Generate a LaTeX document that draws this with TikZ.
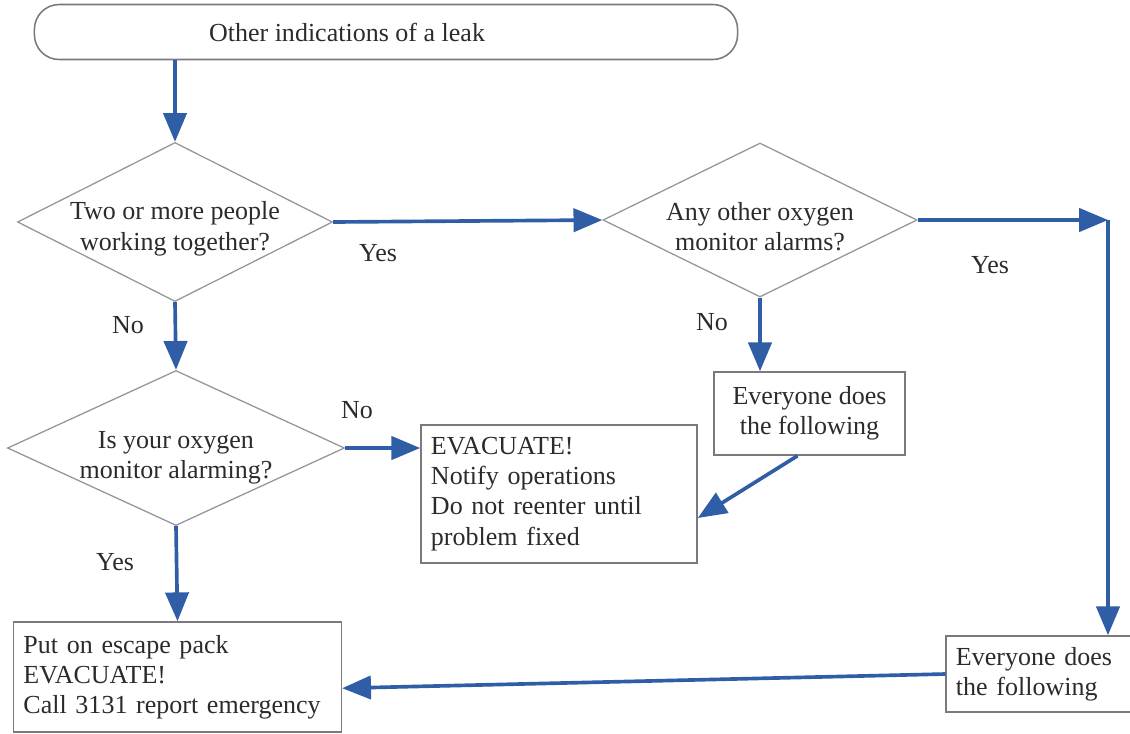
\documentclass[tikz,border=0pt]{standalone}
\usepackage{fontspec}
\setmainfont{Liberation Serif}
\usepackage{tikz}
\usetikzlibrary{arrows.meta,shapes.geometric,calc}
\definecolor{flowblue}{HTML}{2F5DA6}
\definecolor{boxline}{HTML}{7A7A7A}
\definecolor{inktext}{HTML}{2B2B2B}
\tikzset{
  terminal/.style={draw=boxline, line width=1.1pt, rounded corners=0.62cm,
    minimum width=17.575cm, minimum height=1.375cm},
  decision/.style={draw=boxline!80, line width=0.9pt, diamond, inner sep=0pt},
  decitext/.style={align=center, text=inktext, yshift=-0.17cm},
  actionbox/.style={draw=boxline, line width=1.1pt, align=left, text=inktext,
    inner xsep=7pt, anchor=center},
  answer/.style={text=inktext},
  arr/.style={-{Triangle[length=0.72cm, width=0.58cm]}, line width=2.6pt,
    draw=flowblue}
}

\begin{document}
\begin{tikzpicture}[x=0.025cm, y=-0.025cm, font=\fontsize{18.5pt}{21.5pt}\selectfont]
        \useasboundingbox (0,0) rectangle (1130,733);
        % start
        \node[terminal] (start) at (386,32) {};
        \node[text=inktext] (starttext) at (347,32) {Other indications of a leak};
        % decisions
        \node[decision, minimum width=7.875cm, minimum height=3.975cm,
          label={[decitext]center:{Two or more people\\working together?}}] (team) at (175,222) {};
        \node[decision, minimum width=7.85cm, minimum height=3.85cm,
          label={[decitext]center:{Any other oxygen\\monitor alarms?}}] (others) at (760,220) {};
        \node[decision, minimum width=8.425cm, minimum height=3.875cm,
          label={[decitext, yshift=-0.08cm]center:{Is your oxygen\\monitor alarming?}}] (own) at (176,448) {};
        % actions
        \node[actionbox, minimum width=6.9cm, minimum height=3.45cm, text width=6.4cm] (evac) at (559,494)
          {EVACUATE!\\Notify operations\\Do not reenter until\\problem fixed};
        \node[actionbox, minimum width=4.775cm, minimum height=2.075cm, align=center] (allnear) at (809.5,413.5)
          {Everyone does\\the following};
        \node[actionbox, minimum width=8.125cm, minimum height=2.75cm, text width=7.7cm] (escape) at (177.5,677)
          {Put on escape pack\\EVACUATE!\\Call 3131 report emergency};
        \node[actionbox, minimum width=5cm, minimum height=1.9cm, text width=4.6cm] (allfar) at (1048,674)
          {Everyone does\\the following};
        \coordinate (turn) at (1108,220);
        % answers
        \node[answer] (yes1) at (378,253) {Yes};
        \node[answer] (yes2) at (990,265) {Yes};
        \node[answer] (yes3) at (115,562) {Yes};
        \node[answer] (no1) at (128,325) {No};
        \node[answer] (no2) at (712,322) {No};
        \node[answer] (no3) at (357,410) {No};
        % connectors
        \draw[arr] (start.south -| team.north) -- (team.north);
        \draw[arr] (team.east) -- (others.west);
        \draw[arr] (others.east) -- (turn);
        \draw[arr] (turn) -- (turn |- allfar.north);
        \draw[arr] (others.south) -- (allnear.north -| others.south);
        \draw[arr] ([xshift=-0.3cm]allnear.south) -- ([yshift=-0.6cm]evac.east);
        \draw[arr] (team.south) -- (own.north);
        \draw[arr] (own.east) -- (own.east -| evac.west);
        \draw[arr] (own.south) -- (escape.north);
        \draw[arr] (allfar.west) -- ([yshift=-0.28cm]escape.east);
      \end{tikzpicture}
\end{document}
